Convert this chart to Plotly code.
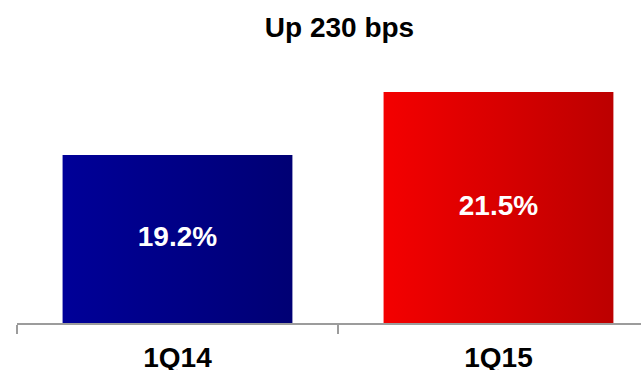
import plotly.graph_objects as go

categories = ["1Q14", "1Q15"]
values = [19.2, 21.5]
labels = ["19.2%", "21.5%"]
title_text = "Up 230 bps"

axis_base = 13.07
axis_top = 22.67
bar_half = 0.358
grad_colors = [("#000098", "#000074"), ("#F40000", "#BC0000")]

FONT = "Liberation Sans, Arial, sans-serif"

fig = go.Figure()
for i, (cat, v) in enumerate(zip(categories, values)):
    x0, x1 = i - bar_half, i + bar_half
    fig.add_trace(go.Scatter(
        x=[x0, x1, x1, x0, x0],
        y=[axis_base, axis_base, v, v, axis_base],
        mode="lines", fill="toself",
        line=dict(width=0),
        fillgradient=dict(type="horizontal",
                          colorscale=[[0, grad_colors[i][0]], [1, grad_colors[i][1]]]),
        hoverinfo="skip", showlegend=False,
    ))

fig.add_trace(go.Scatter(
    x=list(range(len(categories))),
    y=[(axis_base + v) / 2 for v in values],
    mode="text", text=labels,
    textfont=dict(family=FONT, size=28, color="white", weight="bold"),
    showlegend=False, hoverinfo="skip",
))

fig.update_layout(
    width=641, height=370,
    margin=dict(l=17, r=0, t=60, b=47, autoexpand=False),
    paper_bgcolor="white", plot_bgcolor="white",
    title=dict(text=title_text, x=339.5 / 641, xanchor="center",
               y=1 - 27 / 370, yanchor="middle", yref="container",
               font=dict(family=FONT, size=28, color="black", weight="bold")),
    xaxis=dict(range=[-0.5, 1.444], tickvals=list(range(len(categories))),
               ticktext=categories, ticks="", showgrid=False, zeroline=False,
               showline=True, linecolor="#9C9C9C", linewidth=2,
               automargin=False,
               tickfont=dict(family=FONT, size=28, color="black", weight="bold"),
               minor=dict(ticks="outside", tick0=-0.5, dtick=1, ticklen=9,
                          tickcolor="#9C9C9C", tickwidth=2, showgrid=False),
               ticklabelstandoff=8),
    yaxis=dict(range=[axis_base, axis_top], visible=False, automargin=False),
)

fig.write_html("out.html")
